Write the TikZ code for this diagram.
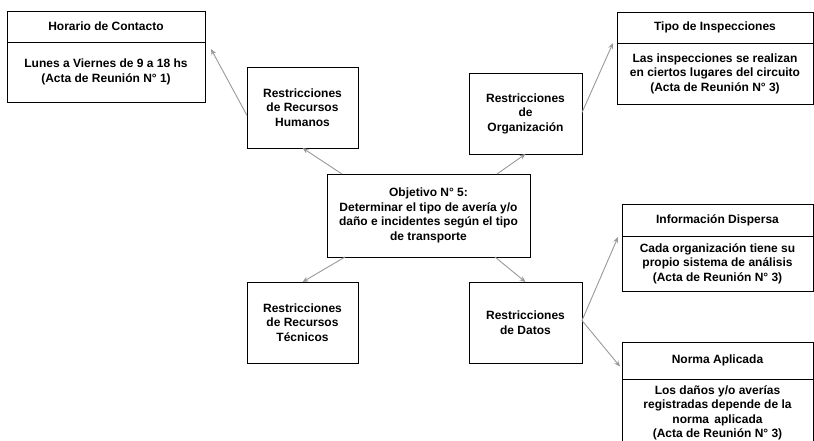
\documentclass[tikz,border=0pt]{standalone}
\usepackage{fontspec}
\setmainfont{Liberation Sans}
\usetikzlibrary{arrows.meta,positioning}

\begin{document}
\begin{tikzpicture}[
  x=1pt, y=-1pt,
  box/.style={rectangle, draw, line width=0.8pt, inner sep=2pt, outer sep=0pt,
    align=center, anchor=north west, font=\bfseries\fontsize{12}{14.5}\selectfont},
  part/.style={box, anchor=north, minimum width=#1},
  arr/.style={draw=gray!80, line width=0.9pt, -{Stealth[length=6pt,width=5pt]}},
  >=Stealth
]
  \useasboundingbox (0,0) rectangle (814,440);
  \clip (0,0) rectangle (814,440);

  % central objective and the four groups of restrictions
  \node[box, minimum width=203pt, minimum height=83pt] (obj) at (327,174)
    {Objetivo N° 5:\\Determinar el tipo de avería y/o\\daño e incidentes según el tipo\\de transporte};
  \node[box, minimum width=111pt, minimum height=81pt] (rrhh) at (247,67)
    {Restricciones\\de Recursos\\Humanos};
  \node[box, minimum width=113pt, minimum height=81pt] (org) at (469,73)
    {Restricciones\\de\\Organización};
  \node[box, minimum width=111pt, minimum height=81pt] (rrt) at (247,282)
    {Restricciones\\de Recursos\\Técnicos};
  \node[box, minimum width=113pt, minimum height=81pt] (datos) at (469,282)
    {Restricciones\\de Datos};

  % detail boxes: heading and body
  \node[box, minimum width=198pt, minimum height=31pt] (horaHead) at (7,11)
    {Horario de Contacto};
  \node[part=198pt, minimum height=60pt] (horaBody) at (horaHead.south)
    {Lunes a Viernes de 9 a 18 hs\\(Acta de Reunión N° 1)};

  \node[box, minimum width=196pt, minimum height=31pt] (tipoHead) at (617,12)
    {Tipo de Inspecciones};
  \node[part=196pt, minimum height=61pt] (tipoBody) at (tipoHead.south)
    {Las inspecciones se realizan\\en ciertos lugares del circuito\\(Acta de Reunión N° 3)};

  \node[box, minimum width=191pt, minimum height=32pt] (infoHead) at (622,204)
    {Información Dispersa};
  \node[part=191pt, minimum height=55pt] (infoBody) at (infoHead.south)
    {Cada organización tiene su\\propio sistema de análisis\\(Acta de Reunión N° 3)};

  \node[box, minimum width=191pt, minimum height=37pt] (normaHead) at (622,342)
    {Norma Aplicada};
  \node[part=191pt, minimum height=68pt] (normaBody) at (normaHead.south)
    {Los daños y/o averías\\registradas depende de la\\norma\, aplicada\\(Acta de Reunión N° 3)};

  \draw[arr] ([xshift=15pt]obj.north west) -- (rrhh.south);
  \draw[arr] ([xshift=-33pt]obj.north east) -- (org.south);
  \draw[arr] ([xshift=18pt]obj.south west) -- (rrt.north);
  \draw[arr] ([xshift=-35pt]obj.south east) -- (datos.north);

  \draw[arr] ([yshift=-8pt]rrhh.west) -- ([xshift=6pt,yshift=-7pt]horaBody.north east);
  \draw[arr] ([yshift=1pt]org.east) -- ([xshift=-4pt]tipoBody.north west);
  \draw[arr] ([yshift=2pt]datos.east) -- ([xshift=-4pt,yshift=-1pt]infoBody.north west);
  \draw[arr] ([yshift=2pt]datos.east) -- ([xshift=-2pt,yshift=-6pt]normaHead.west);
\end{tikzpicture}
\end{document}
